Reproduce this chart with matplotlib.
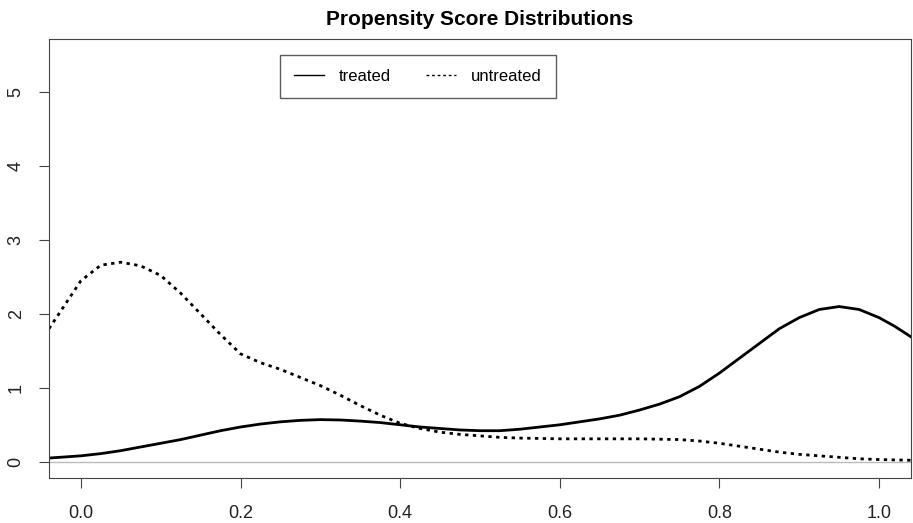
import matplotlib
matplotlib.use('Agg')
from matplotlib import pyplot as plt
import numpy as np

plt.rcParams['font.family'] = ['Liberation Sans', 'DejaVu Sans']

# propensity score grid and density values
x = [-0.04, 0.0, 0.025, 0.05, 0.075, 0.1, 0.125, 0.15, 0.175, 0.2, 0.225, 0.25, 0.275, 0.3,
     0.325, 0.35, 0.375, 0.4, 0.425, 0.45, 0.475, 0.5, 0.525, 0.55, 0.575, 0.6, 0.625, 0.65,
     0.675, 0.7, 0.725, 0.75, 0.775, 0.8, 0.825, 0.85, 0.875, 0.9, 0.925, 0.95, 0.975, 1.0,
     1.02, 1.04]
treated = [0.05, 0.08, 0.11, 0.15, 0.2, 0.25, 0.3, 0.36, 0.42, 0.47, 0.51, 0.54, 0.56, 0.57,
           0.565, 0.55, 0.53, 0.5, 0.47, 0.45, 0.43, 0.42, 0.42, 0.44, 0.47, 0.5, 0.54, 0.58,
           0.63, 0.7, 0.78, 0.88, 1.02, 1.2, 1.4, 1.6, 1.8, 1.95, 2.06, 2.1, 2.06, 1.95,
           1.83, 1.69]
untreated = [1.8, 2.45, 2.66, 2.7, 2.65, 2.52, 2.28, 2.0, 1.72, 1.46, 1.34, 1.25, 1.14, 1.03,
             0.9, 0.76, 0.63, 0.52, 0.45, 0.4, 0.37, 0.35, 0.33, 0.32, 0.315, 0.31, 0.31, 0.31,
             0.31, 0.31, 0.305, 0.3, 0.28, 0.25, 0.21, 0.17, 0.13, 0.1, 0.08, 0.06, 0.04, 0.03,
             0.025, 0.02]

fig = plt.figure(figsize=(9.13, 5.23), dpi=100)
ax = fig.add_axes([49/913, 1-478/523, (911-49)/913, (478-39)/523])

ax.axhline(0, color='#bbbbbb', lw=1)
ax.plot(x, treated, color='black', lw=2, label='treated')
ax.plot(x, untreated, color='black', lw=2, ls=(0, (1.2, 1.6)), label='untreated')

ax.set_xlim(-0.04, 1.04)
ax.set_ylim(-0.22, 5.72)
ax.set_xticks(np.arange(0, 1.01, 0.2))
ax.set_xticklabels(['0.0', '0.2', '0.4', '0.6', '0.8', '1.0'])
ax.set_yticks(range(6))
ax.set_yticklabels([str(i) for i in range(6)], rotation=90, va='center')
ax.tick_params(labelsize=13, length=7.5, color='#444444', labelcolor='#222222')
ax.tick_params(axis='x', pad=12)
ax.tick_params(axis='y', pad=10)
for s in ax.spines.values():
    s.set_color('#444444')

ax.set_title('Propensity Score Distributions', fontsize=15, fontweight='bold', pad=10)

leg = ax.legend(loc='upper left', bbox_to_anchor=((280-49)/862, 1-(55-39)/439), ncol=2,
                fontsize=12, frameon=True, fancybox=False, edgecolor='#333333',
                handlelength=1.8, columnspacing=2.1, borderpad=0.85, handletextpad=0.9,
                borderaxespad=0)
leg.get_frame().set_linewidth(1)
leg.legend_handles[1].set_linestyle((0, (2, 2)))
leg.legend_handles[1].set_linewidth(1)
leg.legend_handles[0].set_linewidth(1)

fig.savefig('out.png', dpi=100)
